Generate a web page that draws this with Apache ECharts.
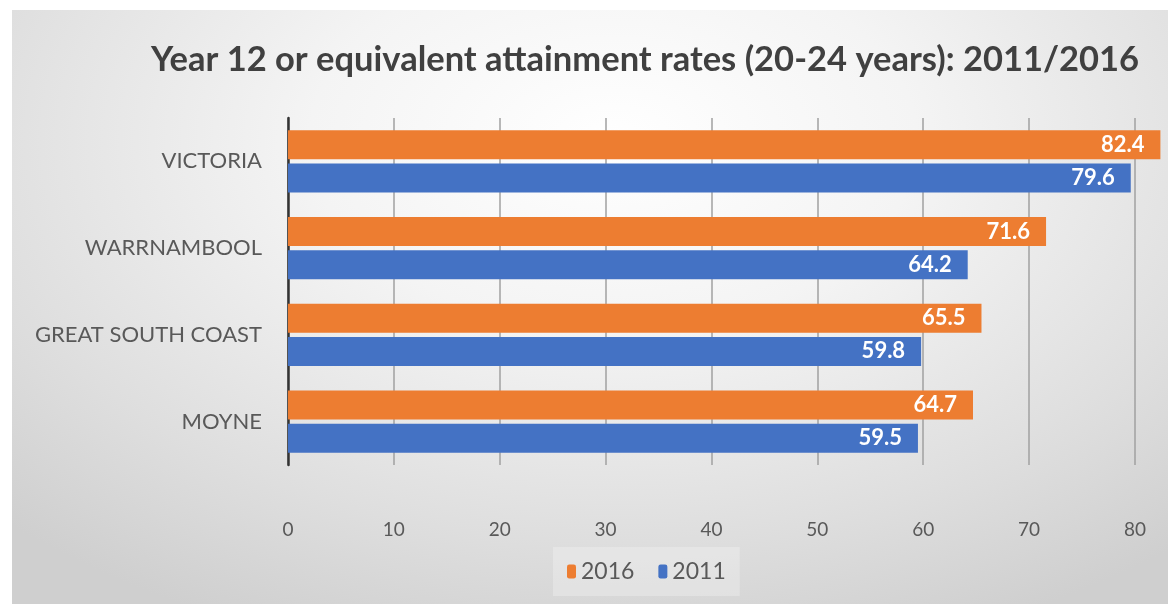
<!DOCTYPE html>
<html>
<head>
<meta charset="utf-8">
<script src="https://cdn.jsdelivr.net/npm/echarts@6/dist/echarts.min.js"></script>
<style>
html,body{margin:0;padding:0;background:#fff;}
#wrap{position:absolute;left:12px;top:10px;width:1156px;height:594px;
background:radial-gradient(ellipse 75% 90% at 52% 22%, #ffffff 0%, #f4f4f4 35%, #dedede 75%, #cfcfcf 100%);}
#chart{position:absolute;left:-12px;top:-10px;width:1168px;height:604px;}
</style>
</head>
<body>
<div id="wrap"><div id="chart"></div></div>
<script>
var categories = ['VICTORIA', 'WARRNAMBOOL', 'GREAT SOUTH COAST', 'MOYNE'];
var values2016 = [82.4, 71.6, 65.5, 64.7];
var values2011 = [79.6, 64.2, 59.8, 59.5];
var seriesNames = ['2016', '2011'];
var titleText = 'Year 12 or equivalent attainment rates (20-24 years): 2011/2016';

var font = 'Lato';
var chart = echarts.init(document.getElementById('chart'), null, {renderer: 'canvas'});
var labelStyle = {
  show: true, position: 'insideRight', distance: 16,
  color: '#ffffff', fontWeight: 'bold', fontSize: 22, fontFamily: font
};
chart.setOption({
  backgroundColor: 'transparent',
  animation: false,
  title: {
    text: titleText, left: 146, top: 37,
    textStyle: {fontFamily: font, fontSize: 34.5, fontWeight: 'bold', color: '#404040'}
  },
  legend: {
    bottom: 8, left: 553,
    itemWidth: 9, itemHeight: 14, itemGap: 24,
    padding: [13, 14],
    backgroundColor: 'rgba(255,255,255,0.25)',
    textStyle: {fontFamily: font, fontSize: 23, color: '#595959'},
    data: seriesNames
  },
  grid: {left: 288, right: 7.6, top: 118, bottom: 139, containLabel: false},
  xAxis: {
    type: 'value', min: 0, max: 82.4, interval: 10,
    axisLine: {show: false},
    axisTick: {show: false},
    axisLabel: {showMaxLabel: false, margin: 55, fontFamily: font, fontSize: 19, color: '#595959'},
    splitLine: {show: true, showMaxLine: false, lineStyle: {color: '#a0a0a0', width: 1.5}}
  },
  yAxis: {
    type: 'category', inverse: true, data: categories,
    axisLine: {show: true, lineStyle: {color: '#333333', width: 2.5}},
    axisTick: {show: false},
    axisLabel: {margin: 26, fontFamily: font, fontSize: 22, color: '#595959'}
  },
  series: [
    {name: seriesNames[0], type: 'bar', data: values2016, barWidth: 29, barGap: '14%',
     itemStyle: {color: '#ED7D31'}, label: labelStyle},
    {name: seriesNames[1], type: 'bar', data: values2011, barWidth: 29, barGap: '14%',
     itemStyle: {color: '#4472C4'}, label: labelStyle}
  ]
});
</script>
</body>
</html>
